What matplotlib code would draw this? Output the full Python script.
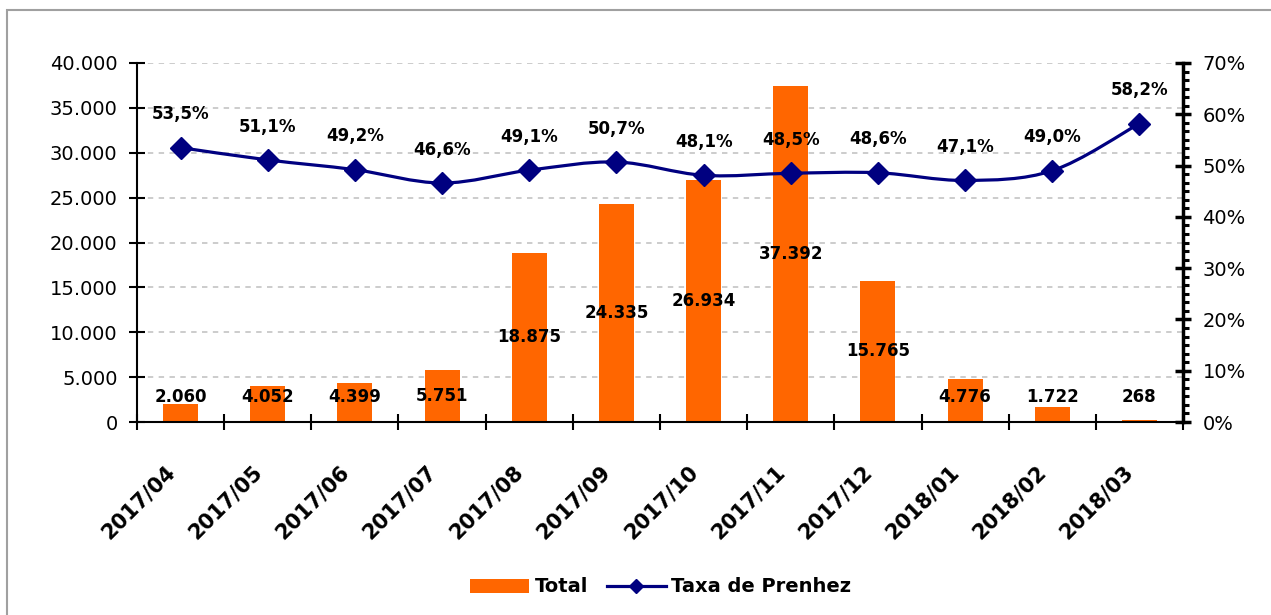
import matplotlib.pyplot as plt
from matplotlib.path import Path
from matplotlib.patches import PathPatch, Rectangle, Patch
from matplotlib.lines import Line2D
from matplotlib.ticker import FuncFormatter, MultipleLocator, AutoMinorLocator
from matplotlib.transforms import ScaledTranslation

meses = ['2017/04', '2017/05', '2017/06', '2017/07', '2017/08', '2017/09',
         '2017/10', '2017/11', '2017/12', '2018/01', '2018/02', '2018/03']
total = [2060, 4052, 4399, 5751, 18875, 24335, 26934, 37392, 15765, 4776, 1722, 268]
taxa = [53.5, 51.1, 49.2, 46.6, 49.1, 50.7, 48.1, 48.5, 48.6, 47.1, 49.0, 58.2]

laranja = '#FF6600'
azul = '#000080'

def milhar(v, pos=None):
    return f'{int(round(v)):,}'.replace(',', '.')

fig = plt.figure(figsize=(12.71, 6.15), dpi=100)
ax = fig.add_axes([137 / 1271, 1 - 422 / 615, 1046 / 1271, 359 / 615])
ax2 = ax.twinx()

x = list(range(len(meses)))

# barras
ax.bar(x, total, width=0.4, color=laranja, zorder=2)
for xi, v in zip(x, total):
    ax.text(xi, max(v / 2, 2800), milhar(v), ha='center', va='center',
            fontsize=12, fontweight='bold', zorder=5)

ax.set_xlim(-0.5, len(meses) - 0.5)
ax.set_ylim(0, 40000)
ax.yaxis.set_major_locator(MultipleLocator(5000))
ax.yaxis.set_major_formatter(FuncFormatter(milhar))
ax.grid(axis='y', color='#C8C8C8', linestyle=(0, (3, 3)), linewidth=1.3, zorder=0)

# categorias: ticks nas divisas, rotulos no centro
ax.set_xticks([i - 0.5 for i in range(len(meses) + 1)])
ax.set_xticklabels([])
ax.set_xticks(x, meses, minor=True)
ax.tick_params(axis='x', which='major', direction='inout', length=12, width=1.5)
ax.tick_params(axis='x', which='minor', length=0, pad=0, labelsize=15)
for lab in ax.get_xticklabels(minor=True):
    lab.set_rotation(45)
    lab.set_rotation_mode('anchor')
    lab.set_ha('right')
    lab.set_va('center')
    lab.set_fontweight('bold')
    lab.set_transform(lab.get_transform() + ScaledTranslation(-0.09, -0.47, fig.dpi_scale_trans))

ax.tick_params(axis='y', direction='inout', length=12, width=1.5, labelsize=14, pad=8)

for s in ['top', 'right']:
    ax.spines[s].set_visible(False)
for s in ['left', 'bottom']:
    ax.spines[s].set_linewidth(1.5)

# linha suavizada (bezier entre os pontos)
pts = list(zip(x, taxa))
verts = [pts[0]]
codes = [Path.MOVETO]
for i in range(len(pts) - 1):
    p0 = pts[max(i - 1, 0)]
    p1 = pts[i]
    p2 = pts[i + 1]
    p3 = pts[min(i + 2, len(pts) - 1)]
    c1 = (p1[0] + (p2[0] - p0[0]) / 6, p1[1] + (p2[1] - p0[1]) / 6)
    c2 = (p2[0] - (p3[0] - p1[0]) / 6, p2[1] - (p3[1] - p1[1]) / 6)
    verts += [c1, c2, p2]
    codes += [Path.CURVE4] * 3
ax2.add_patch(PathPatch(Path(verts, codes), facecolor='none', edgecolor=azul,
                        linewidth=2.3, zorder=3))
ax2.plot(x, taxa, linestyle='none', marker='D', markersize=11, color=azul, zorder=4)
for xi, t in zip(x, taxa):
    ax2.annotate(f'{t:.1f}%'.replace('.', ','), (xi, t), xytext=(0, 24),
                 textcoords='offset points', ha='center', va='center',
                 fontsize=12, fontweight='bold')

ax2.set_ylim(0, 70)
ax2.yaxis.set_major_locator(MultipleLocator(10))
ax2.yaxis.set_minor_locator(AutoMinorLocator(6))
ax2.yaxis.set_major_formatter(FuncFormatter(lambda v, p: f'{int(v)}%'))
ax2.tick_params(axis='y', which='major', direction='inout', length=12, width=2.5,
                labelsize=14, pad=8)
ax2.tick_params(axis='y', which='minor', direction='out', length=4, width=2.2)
for s in ['top', 'left', 'bottom']:
    ax2.spines[s].set_visible(False)
ax2.spines['right'].set_linewidth(2.5)

# legenda
handles = [Patch(facecolor=laranja),
           Line2D([], [], color=azul, linewidth=2.3, marker='D', markersize=7)]
fig.legend(handles, ['Total', 'Taxa de Prenhez'], loc='center',
           bbox_to_anchor=(0.52, 1 - 587 / 615), ncol=2, frameon=False,
           prop={'size': 14, 'weight': 'bold'}, handlelength=3, handleheight=0.7,
           columnspacing=1.0, handletextpad=0.3)

# moldura
fig.patches.append(Rectangle((7 / 1271, -0.1), 2, 1 - 10 / 615 + 0.1,
                             transform=fig.transFigure, fill=False,
                             edgecolor='#A0A0A0', linewidth=1.5))

fig.savefig('out.png', dpi=100)
plt.close()
